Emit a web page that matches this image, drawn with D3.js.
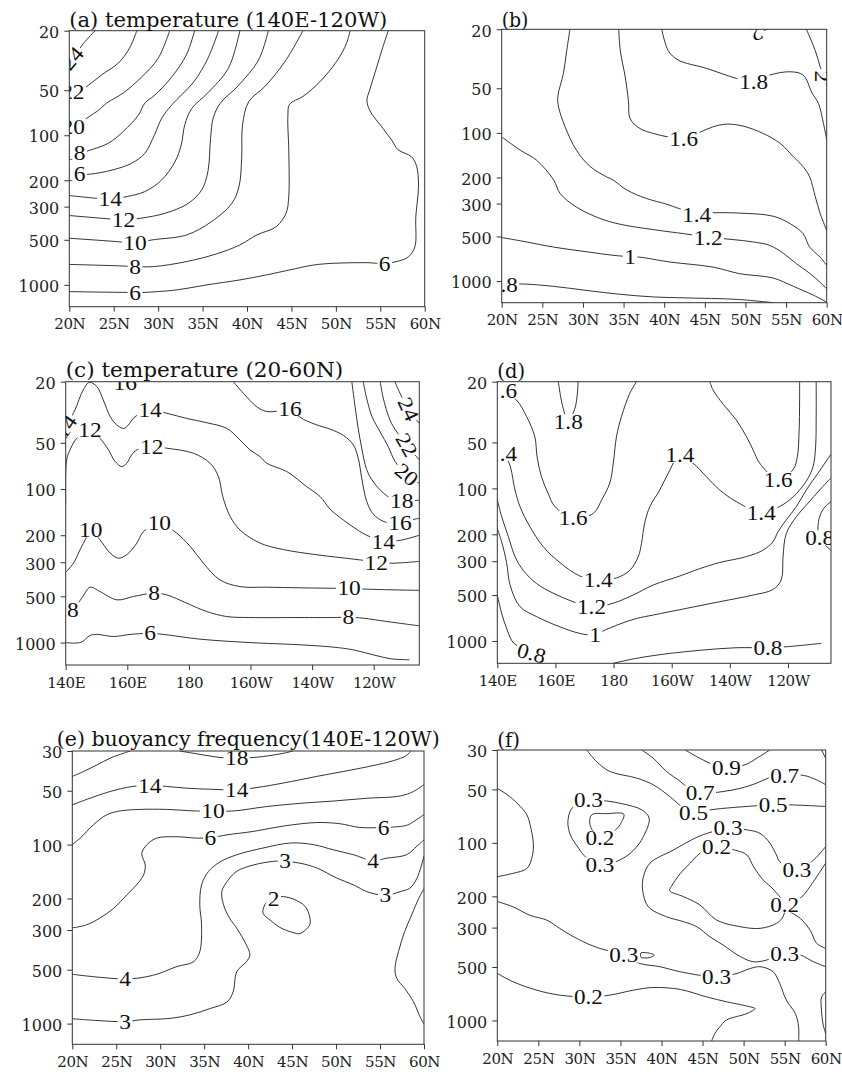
<!DOCTYPE html>
<html>
<head>
<meta charset="utf-8">
<script src="https://cdn.jsdelivr.net/npm/d3@7"></script>
<style>
  body { margin: 0; background: #fff; }
  svg { display: block; }
</style>
</head>
<body>
<svg id="chart" width="842" height="1075"></svg>
<script>
// axis ticks
const latTicks = [20, 25, 30, 35, 40, 45, 50, 55, 60];
const lonTicks = [140, 160, 180, 200, 220, 240];
const depthTicksT = [20, 50, 100, 200, 300, 500, 1000];
const depthTicksN = [30, 50, 100, 200, 300, 500, 1000];
const titles = ["(a) temperature (140E-120W)", "(b)", "(c) temperature (20-60N)", "(d)",
                "(e) buoyancy frequency(140E-120W)", "(f)"];

// contour lines, points are [lat or lon, depth]
const contoursA = [
  {v: 24, pts: [[20,33.3],[20.8,28.3],[21.6,24.3],[22.9,20]]},
  {v: 22, pts: [[20,54],[22,47],[23.6,39.6],[25.5,33],[26.8,26],[27.6,20]]},
  {v: 20, pts: [[20,97],[22.1,76],[23.3,68],[24.2,61],[26.1,52],[28.1,41],[30,30.6],[31.3,20]]},
  {v: 18, pts: [[20,139],[22.3,126],[24.4,113],[26.1,94],[27.8,73],[28.5,61],[29.6,54],[31.5,41],[33.2,28.8],[34.1,20]]},
  {v: 16, pts: [[20,184],[22.3,182],[24.8,171],[27,154],[28.5,132],[29.6,99],[30.4,77],[31.5,63],[34,44],[35.6,30.6],[36.8,20]]},
  {v: 14, pts: [[20,253],[23.1,264],[24.6,267],[26.5,257],[28.5,238],[30.4,199],[31.9,150],[32.6,116],[33,85],[33.8,66],[35.6,52],[37.9,35.7],[39.2,20]]},
  {v: 12, pts: [[20,344],[24.4,362],[26.1,368],[28,359],[30.8,332],[33.4,285],[34.9,232],[35.6,175],[35.9,105],[36.2,76.5],[37,61],[39,46.7],[41.3,31.4],[42.4,20]]},
  {v: 10, pts: [[20,488],[25.7,516],[27.4,527],[29.3,501],[33.2,464],[36,378],[38.3,285],[39.1,220],[39.4,143],[39.5,85],[40.2,59.6],[42,47.3],[44.3,32],[46.3,20]]},
  {v: 8, pts: [[20,730],[25.7,747],[27.4,755],[29.5,755],[33.2,699],[36.6,620],[39.2,541],[41.1,464],[43.3,408],[44.4,332],[44.7,257],[44.7,125],[44.6,75],[44.8,62],[46.3,55],[48.2,43.9],[50.1,32],[51.2,24.3],[51.6,20]]},
  {v: 6, pts: [[20,1110],[26.6,1124],[27.4,1124],[28.3,1124],[32.1,1081],[35.5,1000],[39.2,927],[42.2,858],[44.8,795],[47.5,737],[49.7,718],[53.5,711],[55.5,720],[57,695],[58.2,647],[58.9,555],[59,350],[59.3,220],[59.1,162],[58.5,139],[57,125],[56.3,108],[55.3,90],[53.8,68],[53.5,58],[53.8,50],[54.6,35],[55.3,25.6],[55.9,20]]}
];
const labelsA = [
  {t: "24", at: [20.3, 30.6], rot: -50},
  {t: "22", at: [20.4, 51]},
  {t: "20", at: [20.45, 87.6]},
  {t: "18", at: [20.5, 132]},
  {t: "16", at: [20.5, 182]},
  {t: "14", at: [24.6, 267]},
  {t: "12", at: [26.1, 368]},
  {t: "10", at: [27.4, 527]},
  {t: "8", at: [27.4, 755]},
  {t: "6", at: [27.4, 1124]},
  {t: "6", at: [55.5, 729]}
];

const contoursB = [
  {v: 2, pts: [[57.5,20],[58.6,27.9],[59.2,35.7],[60,47.6]]},
  {v: 2, pts: [[50.4,20],[51.4,21.2],[52.6,20]]},
  {v: 1.8, pts: [[39.7,20],[40.5,27.9],[41.7,32.2],[45.2,36.7],[48.9,42.9],[51,45.2],[53,40.7],[55.5,38.7],[57.1,40.7],[58.2,53.8],[59,63.6],[59.6,86.4],[60,111]]},
  {v: 1.6, pts: [[34.4,20],[34.6,27.9],[35.2,41.9],[35.6,60.7],[35.8,80],[37,93.4],[38.7,101],[40.5,106.5],[42.4,109],[44.4,99],[46,91],[47.7,87.3],[49.7,90],[52.2,101],[54.3,118],[55.9,145],[57.1,169],[57.9,198],[58.6,270],[59.2,350],[60,456]]},
  {v: 1.4, pts: [[28.4,20],[28,27.9],[27.6,39.6],[26.9,57.2],[27,66.8],[27.8,91],[29.2,131],[30.9,169],[32.9,198],[33.7,208],[35.4,243],[37.8,277],[40.3,303],[41.9,325],[44,350],[46,346],[49.3,348],[53.4,365],[55.5,410],[57.1,479],[57.9,590],[59.2,690],[60,784]]},
  {v: 1.2, pts: [[20,106.5],[22.3,131],[24.3,153],[26.4,208],[27.2,257],[29.2,317],[32.1,378],[34.6,414],[38.7,450],[42.4,479],[45.4,505],[48.5,525],[51,545],[53,575],[54.7,652],[56.3,766],[57.7,869],[58.6,954],[60,1127]]},
  {v: 1, pts: [[20,509],[22.3,535],[26.4,590],[30.5,635],[33.7,670],[35.8,685],[37,690],[40.7,744],[46,805],[49.3,892],[53.4,954],[55.9,1086],[58.4,1248],[60,1388]]},
  {v: 0.8, pts: [[20,1063],[22.3,1046],[26.4,1086],[30.5,1158],[34.6,1229],[38.7,1280],[42.8,1300],[48.9,1329],[53.4,1400]]}
];
const labelsB = [
  {t: "2", at: [51.4, 21.3], rot: 160},
  {t: "2", at: [59.5, 41.5], rot: 90},
  {t: "1.8", at: [51, 45.2]},
  {t: "1.6", at: [42.4, 109]},
  {t: "1.4", at: [44, 359]},
  {t: "1.2", at: [45.4, 509]},
  {t: "1", at: [35.8, 690]},
  {t: "0.8", at: [20.2, 1063]}
];

const contoursC = [
  {v: 6, pts: [[140,1000],[142.5,1008],[145.2,992],[147.9,899],[150.1,885],[155.5,913],[160.9,885],[167.4,871],[171.7,885],[183.6,950],[199.8,1000],[216.1,1034],[226.9,1071],[233.4,1116],[239.9,1203],[245.8,1277],[251.6,1295]]},
  {v: 8, pts: [[140,660],[142.3,612],[145.2,514],[147.9,436],[151.1,465],[156.6,527],[162,501],[168.7,477],[172.8,489],[179.3,554],[185.8,628],[192.3,677],[199.8,687],[216.1,687],[226.9,687],[231.8,684],[236.6,694],[244.2,729],[254.8,778]]},
  {v: 10, pts: [[140,349],[142.5,304],[144.7,248],[146.6,209],[148.1,185],[151.1,214],[154.4,261],[157.1,282],[159.8,268],[163.1,225],[165.2,190],[170.4,167],[175.5,190],[180.4,236],[184.7,304],[190.1,391],[196.6,432],[205.3,436],[216.1,440],[226.9,443],[232,443],[237.7,449],[254.8,457]]},
  {v: 12, pts: [[140,124],[140.3,64.6],[141.4,55.6],[143.6,46.7],[147.9,41.3],[151.1,46.7],[153.9,55.6],[156,66],[158.2,71.4],[159.8,68],[161.4,60],[163.1,55.6],[167.9,52.9],[172.8,54.2],[181.5,58.5],[186.9,68],[189.6,83],[191,112],[193.4,151],[196.6,185],[203.1,225],[210.7,248],[221.5,268],[233.4,286],[240.8,298],[245.8,304],[254.8,296]]},
  {v: 14, pts: [[140,42.3],[140.9,37],[143,30.6],[145.7,22.6],[147.7,20.2],[150.1,21.5],[152.2,26.3],[154.4,33.6],[156.6,38.3],[158.9,40.3],[160.3,38.3],[162.5,33.8],[167.4,30.6],[172.8,32.1],[179.3,34.7],[185.8,37],[192.3,40.3],[196.6,47.9],[199.8,55.6],[203.1,61.5],[205.3,68],[211.8,77],[218.2,96.4],[222.6,112],[225.8,135],[232.3,171],[237.7,200],[243.1,218],[248.5,216],[254.8,200]]},
  {v: 16, pts: [[157.2,20],[159.3,20.6],[161.4,20]]},
  {v: 16, pts: [[194.4,20],[197.7,23.8],[202,29.1],[205.3,31.3],[212.8,31],[217.2,35.2],[222.6,38.9],[225.8,40.7],[230.2,44.8],[233.4,51.6],[235,63.3],[236.1,84.7],[237.7,120],[239.9,146],[243.7,164],[248.5,165],[253.4,157],[254.8,155]]},
  {v: 18, pts: [[232.9,20],[233.9,28.6],[235,40.7],[236.1,54],[237.7,74.6],[239.9,90],[243.1,106],[245.3,114],[249.1,120],[253.4,119],[254.8,118]]},
  {v: 20, pts: [[236.6,20],[237.7,25.6],[239.4,33.6],[242.1,42.5],[244.8,53.4],[246.9,66],[250.7,80.5],[254.8,92]]},
  {v: 22, pts: [[242.1,20],[243.1,25.6],[245.3,35.6],[247.5,42.5],[250.7,51.6],[254.8,64.6]]},
  {v: 24, pts: [[246.9,20],[248.5,23.7],[251.3,30.2],[254.8,37.4]]}
];
const labelsC = [
  {t: "14", at: [140, 39.3], rot: -55},
  {t: "16", at: [159.3, 20.4]},
  {t: "14", at: [167.4, 30.6]},
  {t: "12", at: [147.9, 41.3]},
  {t: "12", at: [167.9, 52.9]},
  {t: "16", at: [212.8, 29.9]},
  {t: "10", at: [148.1, 185]},
  {t: "10", at: [170.4, 167]},
  {t: "8", at: [142.3, 612]},
  {t: "8", at: [168.7, 477]},
  {t: "6", at: [167.4, 871]},
  {t: "10", at: [232, 443]},
  {t: "8", at: [231.8, 684]},
  {t: "12", at: [240.8, 301]},
  {t: "14", at: [243.1, 222]},
  {t: "16", at: [248.5, 165]},
  {t: "18", at: [249.1, 120]},
  {t: "20", at: [250.7, 80.5], rot: 40},
  {t: "22", at: [250.7, 51.6], rot: 60},
  {t: "24", at: [251.3, 30.2], rot: 65}
];

const contoursD = [
  {v: 1.8, pts: [[161,20],[161.8,25.1],[162.7,30],[164.4,36.5],[166.7,29.9],[167.5,24.4],[167.8,20]]},
  {v: 1.6, pts: [[140,22.3],[141.8,23.1],[146.6,26.4],[150.1,33.9],[152.9,45.8],[153.7,62.4],[155.2,83.8],[157.5,108],[159.8,131.5],[166.1,157],[173,146],[175.9,119],[178.7,92.2],[179.9,68.5],[181,45.8],[182.7,33.9],[185.6,23.8],[187.9,20]]},
  {v: 1.4, pts: [[140,54.6],[141.8,59.1],[144.1,68.5],[146.1,102.5],[147.8,131.5],[151.2,178],[155.8,241],[161.5,306],[168.4,375],[174.7,397],[181,386],[185.6,344],[188.5,280],[189.6,230],[190.7,169],[192.5,131.5],[195.9,102.5],[198.8,79.6],[202.8,60.7],[207.4,68.5],[211.9,83.8],[216.5,102.5],[222.2,122],[230.8,144],[237.1,131.5],[241.7,114],[246.3,89.6],[248.6,72.4],[249.5,53.3],[249.7,33.9],[249.7,20]]},
  {v: 1.6, pts: [[213.1,20],[214.2,22.6],[217.7,28.1],[222.2,35.6],[225.7,45.8],[228,56],[230.3,68.5],[236.6,87.3],[241.7,75.6],[243.2,62.4],[243.8,43.6],[244,26.4],[244,20]]},
  {v: 1.2, pts: [[140,119],[141.5,153],[143.8,207],[146.1,280],[148.9,344],[153.5,420],[159.2,486],[166.1,553],[172.4,601],[179.9,565],[186.7,500],[193.6,430],[202.8,375],[209.6,336],[216.5,306],[225.7,280],[231.4,254],[234.8,224],[236.6,192],[239.4,161],[242.9,131.5],[246.3,102.5],[250.3,79.6],[254.8,59.7]]},
  {v: 1, pts: [[140,183],[141.5,224],[143.2,306],[144.4,430],[147.8,595],[153.5,692],[161.5,807],[168.4,892],[173.6,913],[175.9,868],[182.2,773],[187.9,712],[193.6,676],[205.1,611],[216.5,553],[228,500],[234.8,460],[237.7,397],[238.3,280],[239.4,198],[242.9,153],[246.9,125],[250.9,102.5],[254.8,85.5]]},
  {v: 0.8, pts: [[140,500],[141.5,658],[143.4,847],[145.7,1036],[151.8,1199],[155.8,1400]]},
  {v: 0.8, pts: [[254.8,122],[252,138],[250.5,165],[250.8,211],[254.8,254]]},
  {v: 0.8, pts: [[179.9,1400],[187.9,1298],[199.3,1206],[210.8,1146],[222.2,1107],[233.1,1107],[239.4,1091],[251.5,1036]]}
];
const labelsD = [
  {t: "1.8", at: [164.4, 36.5]},
  {t: "1.6", at: [141.8, 23.1]},
  {t: "1.4", at: [141.8, 59.1]},
  {t: "1.6", at: [166.1, 157]},
  {t: "1.4", at: [174.7, 397]},
  {t: "1.4", at: [202.8, 60.7]},
  {t: "1.6", at: [236.6, 87.3]},
  {t: "1.4", at: [230.8, 144]},
  {t: "1.2", at: [172.4, 601]},
  {t: "1", at: [173.6, 913]},
  {t: "0.8", at: [151.8, 1199], rot: 15},
  {t: "0.8", at: [250.9, 211]},
  {t: "0.8", at: [233.1, 1107]}
];

const contoursE = [
  {v: 18, pts: [[20,41.6],[21.25,39.1],[22.8,35.9],[24.3,32.9],[25.8,30.9],[26.6,30]]},
  {v: 18, pts: [[32.2,30],[33.8,30.9],[35.3,31.8],[36.8,32.6],[38.7,32.9],[41,32.5],[42.5,31.8],[44,30.9],[45.1,30]]},
  {v: 14, pts: [[20,60],[22,55.1],[24.3,50.5],[26.9,47.3],[28.8,46.7],[30.7,47.3],[33,48.4],[36,49.1],[38.7,49.5],[41,48],[44,45.3],[47.8,41.6],[51.6,38.4],[54.2,36.2],[56.5,34],[58,31.8],[58.5,30]]},
  {v: 10, pts: [[20,100],[20.9,92],[22.4,77.5],[23.9,68.2],[25.4,64.9],[27.7,63.6],[30.7,63.6],[34.1,64.9],[36,64.9],[38.3,64.9],[42.1,61.3],[45.9,58.8],[49.7,57.1],[53.5,55.1],[57.3,53.5],[58.8,50.5],[60,46.2]]},
  {v: 6, pts: [[20,292],[21.6,281],[23.1,258],[24.7,227],[26.2,191],[27.3,168],[28.1,148],[28.3,130],[27.9,112],[28.5,100],[29.6,92],[31.9,90.4],[34.1,92],[35.7,91.5],[37.6,88.2],[40.6,84.4],[44,78.8],[47.8,75.3],[50.4,76.4],[52.7,80.2],[55.4,80.2],[57.3,79.2],[58.2,77.5],[59.2,72.3],[60,68]]},
  {v: 4, pts: [[20,530],[22.4,547],[26,563],[27.7,555],[29.6,530],[31.9,480],[33.8,451],[34.5,396],[34.7,281],[34.5,217],[34.7,168],[35.5,141],[36.8,125],[38.7,114],[41.7,104.5],[44.8,98],[47.4,100],[49.7,107],[52,114],[54.2,123],[55.8,119],[58,114],[59.2,102],[60,94]]},
  {v: 3, pts: [[20,939],[22.8,961],[26,975],[27.7,953],[31.1,935],[33.4,893],[35.7,823],[37.6,757],[38.3,663],[38.7,513],[39.8,451],[40.2,413],[39.8,364],[38.7,293],[37.9,258],[37.2,217],[37,183],[37.6,161],[38.7,141],[40.6,130],[42.9,124],[44.2,124],[45.9,127],[47.8,135],[50.1,154],[52,168],[53.5,183],[55.6,192],[57.3,183],[58.4,175],[59.2,154],[60,116]]},
  {v: 3, pts: [[60,176],[59.4,200],[58.6,247],[57.8,306],[57.1,396],[56.7,490],[56.9,559],[57.8,636],[58.8,754],[59.5,905],[60,1009]]},
  {v: 2, closed: true, pts: [[43.6,195],[45.1,201],[46.5,222],[47,254],[47,281],[45.9,314],[45.1,310],[43.6,290],[42.5,264],[41.7,242],[41.9,217],[42.7,200]]}
];
const labelsE = [
  {t: "18", at: [38.7, 32.9]},
  {t: "14", at: [28.8, 46.7]},
  {t: "14", at: [38.7, 49.5]},
  {t: "10", at: [36, 64.9]},
  {t: "6", at: [35.7, 91.5]},
  {t: "6", at: [55.4, 80.2]},
  {t: "4", at: [26, 563]},
  {t: "4", at: [54.2, 123]},
  {t: "3", at: [26, 975]},
  {t: "3", at: [44.2, 124]},
  {t: "3", at: [55.6, 192]},
  {t: "2", at: [42.9, 201]}
];

const contoursF = [
  {v: 0.3, pts: [[20,49.3],[21.5,54.8],[22.8,62.4],[23.6,69.5],[24,79.2],[24.4,102.6],[24.2,122],[23.6,139.4],[21.9,148.5],[20,155]]},
  {v: 0.3, closed: true, pts: [[31.1,57.3],[29.1,63.8],[28.6,75.8],[28.9,90.3],[29.9,107],[30.7,119.5],[32.5,133],[34.9,125],[36.6,110],[37.8,92.1],[38.5,72.6],[37.6,65.2],[35.4,60.5],[33.3,58.1]]},
  {v: 0.2, closed: true, pts: [[31.3,79.2],[31.5,69.5],[33.3,68.5],[35.4,68.9],[35.1,76.8],[34.3,85.5],[32.5,94.1]]},
  {v: 0.5, pts: [[30.9,30],[32.1,34.9],[33.7,39.6],[37,43.2],[39,47.1],[41,54.8],[42.7,63.8],[43.9,68.1],[45.9,65.2],[51.6,61.8],[53.6,61.1],[55.7,61.1],[60,62.4]]},
  {v: 0.7, pts: [[37.6,30],[39,33.4],[40.6,39.6],[42.3,45.1],[43.3,49.3],[44.7,52.5],[47.5,51.4],[49.6,49.3],[51.6,46.1],[53,43.2],[55,41.7],[57.3,41.7],[58.9,44.2],[60,47.1]]},
  {v: 0.9, pts: [[42.9,30],[44.3,32.7],[45.9,35.6],[47.9,38],[50.2,36.3],[51.6,33.4],[53.2,30]]},
  {v: 0.9, pts: [[59.5,30],[60,33.4]]},
  {v: 0.3, pts: [[60,105],[58.3,127.6],[56.5,142],[54.4,127.6],[54,117],[53.2,100.4],[52,88.4],[50.4,84.5],[48.1,82.6],[45.9,87.4],[44.3,93],[41.4,110],[38.6,130],[37.8,155],[37.7,184.6],[38.4,229],[40.6,260.4],[42.7,278],[44.3,296.6],[45.9,338],[47.5,376],[49.6,437],[51.2,467],[52.8,457],[55,419],[56.9,428],[58.5,467],[60,498]]},
  {v: 0.2, closed: true, pts: [[46.7,105],[49,110],[50.4,117],[51.2,136],[52.4,162],[53.6,182.4],[55,224],[54.8,260.4],[54,284],[52,303],[49.6,296.6],[46.7,272],[44.7,224],[42.7,201],[41,186],[41.2,176],[42.3,148.5],[43.5,130],[44.7,114.4]]},
  {v: 0.3, pts: [[60,130],[58.1,176],[57.1,201],[55,229],[56.9,266],[58.1,310],[58.9,368],[60,393]]},
  {v: 0.3, pts: [[20,214],[21.9,229],[24,256],[26,272],[27.6,303],[28.9,330],[30.9,368],[32.5,393],[35.4,428],[37.4,478],[39.8,498],[42.3,532],[46.7,568],[49.2,543],[50.8,510],[52,498],[53.6,532],[54.4,619],[55.2,768],[56.3,914],[56.7,1086],[56.7,1307]]},
  {v: 0.3, closed: true, pts: [[37.5,417],[38.8,421],[39.1,428],[38.8,439],[37.5,441]]},
  {v: 0.2, pts: [[20,543],[21.9,605],[24.8,675],[27.6,720],[31.1,737],[33.7,720],[36.6,675],[39,652],[42.3,669],[45.5,737],[47.9,784],[50.8,838],[51.4,857],[50.4,914],[47.9,995],[47.1,1086],[46.5,1186],[46.1,1307]]},
  {v: 0.2, pts: [[60,690],[59.5,737],[59.5,894],[59.7,1062],[60,1186]]}
];
const labelsF = [
  {t: "0.3", at: [31.1, 57.3]},
  {t: "0.3", at: [32.5, 133]},
  {t: "0.2", at: [32.5, 94.1]},
  {t: "0.5", at: [43.9, 68.1]},
  {t: "0.5", at: [53.6, 61.1]},
  {t: "0.7", at: [44.7, 52.5]},
  {t: "0.7", at: [55, 41.7]},
  {t: "0.9", at: [47.9, 38]},
  {t: "0.3", at: [48.1, 82.6]},
  {t: "0.3", at: [56.5, 142]},
  {t: "0.2", at: [46.7, 105]},
  {t: "0.2", at: [55, 224]},
  {t: "0.3", at: [55, 419]},
  {t: "0.3", at: [35.4, 428]},
  {t: "0.3", at: [46.7, 568]},
  {t: "0.2", at: [31.1, 737]}
];

const latFmt = d => d + "N";
const lonFmt = d => d < 180 ? d + "E" : d === 180 ? "180" : (360 - d) + "W";

const panels = [
  {id: "a", left: 69.3, right: 424.7, top: 30.7, bottom: 306.7, xDomain: [20, 60], yDomain: [20, 1400],
   xTicks: latTicks, yTicks: depthTicksT, xFmt: latFmt, title: titles[0], tx: 69.3, ty: 27, tw: 318,
   contours: contoursA, labels: labelsA},
  {id: "b", left: 501.7, right: 826.7, top: 29.3, bottom: 302.7, xDomain: [20, 60], yDomain: [20, 1400],
   xTicks: latTicks, yTicks: depthTicksT, xFmt: latFmt, title: titles[1], tx: 501.7, ty: 27, tw: 26.7,
   contours: contoursB, labels: labelsB},
  {id: "c", left: 65.7, right: 419.3, top: 381.7, bottom: 665, xDomain: [140, 254.8], yDomain: [20, 1400],
   xTicks: lonTicks, yTicks: depthTicksT, xFmt: lonFmt, title: titles[2], tx: 65.7, ty: 377, tw: 277.6,
   contours: contoursC, labels: labelsC},
  {id: "d", left: 497.3, right: 831, top: 381.7, bottom: 663.3, xDomain: [140, 254.8], yDomain: [20, 1400],
   xTicks: lonTicks, yTicks: depthTicksT, xFmt: lonFmt, title: titles[3], tx: 497.3, ty: 378, tw: 27.7,
   contours: contoursD, labels: labelsD},
  {id: "e", left: 72.3, right: 424, top: 751, bottom: 1044.3, xDomain: [20, 60], yDomain: [30, 1305],
   xTicks: latTicks, yTicks: depthTicksN, xFmt: latFmt, title: titles[4], tx: 56.7, ty: 746, tw: 383,
   contours: contoursE, labels: labelsE},
  {id: "f", left: 497.3, right: 825.7, top: 750, bottom: 1041, xDomain: [20, 60], yDomain: [30, 1305],
   xTicks: latTicks, yTicks: depthTicksN, xFmt: latFmt, title: titles[5], tx: 497.3, ty: 747, tw: 22.7,
   contours: contoursF, labels: labelsF}
];

const svg = d3.select("#chart");
const defs = svg.append("defs");
const tickFont = "'DejaVu Serif', serif";
const labelFont = "'Liberation Serif', 'Times New Roman', serif";

// contour label width: digits are wide, dots narrow
function labelWidth(t) {
  let w = 0;
  for (const ch of t) w += ch === "." ? 5.5 : 11.7;
  return w;
}

function drawPanel(p) {
  const x = d3.scaleLinear().domain(p.xDomain).range([p.left, p.right]);
  const y = d3.scaleLog().domain(p.yDomain).range([p.top, p.bottom]);
  const g = svg.append("g").attr("class", "panel-" + p.id);

  defs.append("clipPath").attr("id", "clip-" + p.id)
    .append("rect").attr("x", p.left).attr("y", p.top)
    .attr("width", p.right - p.left).attr("height", p.bottom - p.top);

  const plot = g.append("g").attr("clip-path", `url(#clip-${p.id})`);

  const line = d3.line().x(d => x(d[0])).y(d => y(d[1])).curve(d3.curveCatmullRom.alpha(0.5));
  const loop = d3.line().x(d => x(d[0])).y(d => y(d[1])).curve(d3.curveCatmullRomClosed.alpha(0.5));

  plot.selectAll("path.contour").data(p.contours).join("path")
    .attr("class", "contour")
    .attr("d", d => (d.closed ? loop : line)(d.pts))
    .attr("fill", "none").attr("stroke", "#111").attr("stroke-width", 0.85);

  const lab = plot.selectAll("g.clab").data(p.labels).join("g")
    .attr("class", "clab")
    .attr("transform", d => `translate(${x(d.at[0])},${y(d.at[1])}) rotate(${d.rot || 0})`);
  lab.append("rect")
    .attr("x", d => -labelWidth(d.t) / 2 - 1.5).attr("y", -7.5)
    .attr("width", d => labelWidth(d.t) + 3).attr("height", 15)
    .attr("fill", "#fff");
  lab.append("text")
    .attr("x", d => -labelWidth(d.t) / 2).attr("dy", "0.34em")
    .attr("textLength", d => labelWidth(d.t)).attr("lengthAdjust", "spacingAndGlyphs")
    .attr("font-family", labelFont).attr("font-size", 21).attr("fill", "#111")
    .text(d => d.t);

  // axes
  const xAxis = g.append("g").attr("transform", `translate(0,${p.bottom})`)
    .call(d3.axisBottom(x).tickValues(p.xTicks).tickFormat(p.xFmt).tickSize(5).tickPadding(7));
  const yAxis = g.append("g").attr("transform", `translate(${p.left},0)`)
    .call(d3.axisLeft(y).tickValues(p.yTicks).tickFormat(d => d).tickSize(5).tickPadding(5));
  [xAxis, yAxis].forEach(a => {
    a.select(".domain").remove();
    a.selectAll(".tick line").attr("stroke", "#333");
    a.selectAll(".tick text").attr("font-family", tickFont).attr("fill", "#222");
  });
  xAxis.selectAll(".tick text").attr("font-size", 15).attr("letter-spacing", -0.4);
  yAxis.selectAll(".tick text").attr("font-size", 16).attr("dy", "0.42em");

  g.append("rect").attr("x", p.left).attr("y", p.top)
    .attr("width", p.right - p.left).attr("height", p.bottom - p.top)
    .attr("fill", "none").attr("stroke", "#333").attr("stroke-width", 1);

  g.append("text").attr("x", p.tx).attr("y", p.ty)
    .attr("textLength", p.tw).attr("lengthAdjust", "spacingAndGlyphs")
    .attr("font-family", tickFont).attr("font-size", 20.5).attr("fill", "#111")
    .text(p.title);
}

panels.forEach(drawPanel);
</script>
</body>
</html>
